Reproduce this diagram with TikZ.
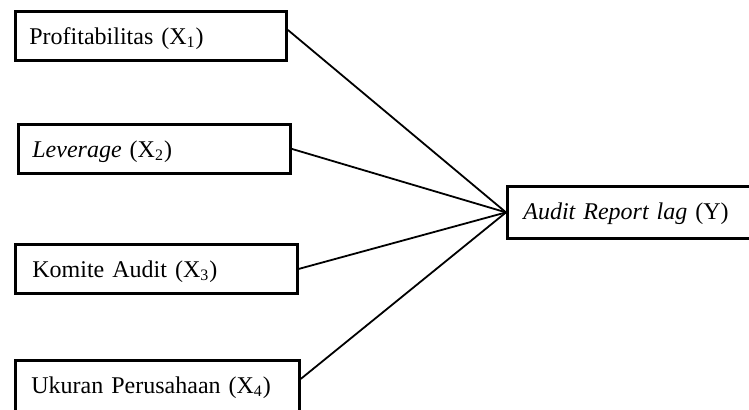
\documentclass[tikz,border=0pt]{standalone}
\usepackage{fontspec}
\setmainfont{Liberation Serif}
\usepackage{tikz}
\tikzset{
	varbox/.style = {draw=black, line width=1.4pt, anchor=north west, align=left, inner xsep=7pt, inner ysep=0pt, text height=16.5pt, text depth=8pt, font=\fontsize{12}{14}\selectfont},
	depbox/.style = {varbox, text width=109pt, inner xsep=8pt, text depth=9.5pt},
	link/.style = {draw=black, line width=0.9pt}
}
\begin{document}
\begin{tikzpicture}[x=0.5pt, y=-0.5pt]
		\useasboundingbox (0,0) rectangle (749,410);
		% independent variables
		\node [varbox, text width=121.5pt] (prof) at (14,10) {Profitabilitas (X\textsubscript{1})};
		\node [varbox, text width=122pt] (lev) at (17,123) {\textit{Leverage} (X\textsubscript{2})};
		\node [varbox, text width=124pt, inner xsep=8.5pt] (kom) at (14,243) {Komite Audit (X\textsubscript{3})};
		\node [varbox, text width=126pt, inner xsep=8pt, text depth=14pt] (ukur) at (14,359) {Ukuran Perusahaan (X\textsubscript{4})};
		% dependent variable
		\node [depbox] (arl) at (506,185) {\textit{Audit Report lag} (Y)};
		% connectors
		\draw [link] ([yshift=3pt]prof.east) -- (arl.west);
		\draw [link] (lev.east) -- (arl.west);
		\draw [link] (kom.east) -- (arl.west);
		\draw [link] ([yshift=6pt]ukur.east) -- (arl.west);
\end{tikzpicture}
\end{document}
